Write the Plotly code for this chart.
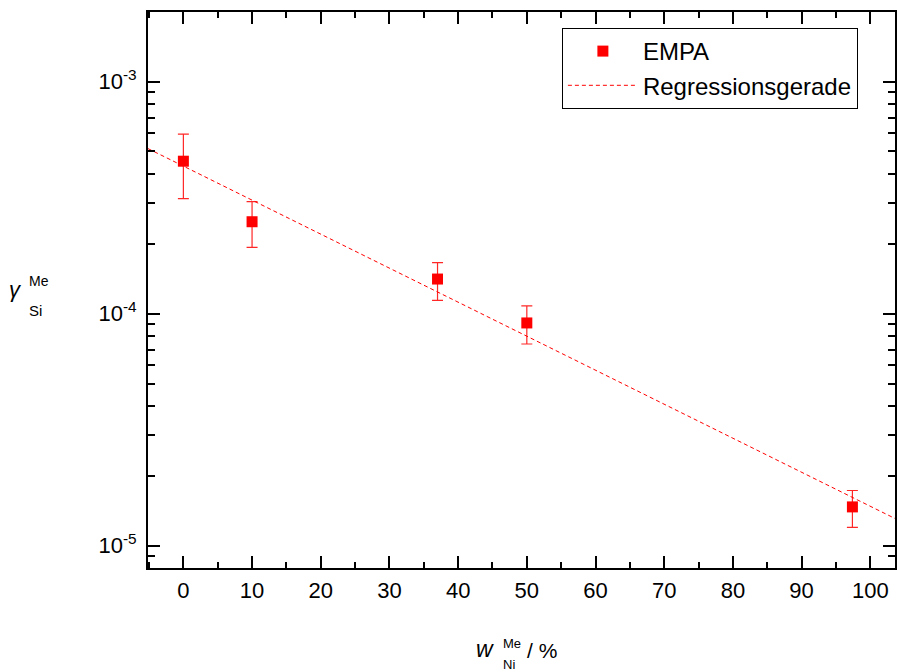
import numpy as np
import plotly.graph_objects as go

# Data
x_vals = [0, 10, 37, 50, 97.4]
y_vals = [4.54e-4, 2.49e-4, 1.41e-4, 9.12e-5, 1.47e-5]
y_err_plus = [5.94e-4, 3.04e-4, 1.66e-4, 1.08e-4, 1.73e-5]   # upper bar ends
y_err_minus = [3.13e-4, 1.93e-4, 1.14e-4, 7.4e-5, 1.20e-5]  # lower bar ends

x_ticks = [0, 10, 20, 30, 40, 50, 60, 70, 80, 90, 100]
y_ticks = [1e-5, 1e-4, 1e-3]
y_tick_text = ["10<sup>-5</sup>", "10<sup>-4</sup>", "10<sup>-3</sup>"]

x_range = [-5.15, 103.6]
y_range = [-5.096, -2.700]

# Regression line fitted in log space
slope, intercept = np.polyfit(np.array(x_vals), np.log10(np.array(y_vals)), 1)
x_fit = np.linspace(x_range[0], x_range[1], 200)
y_fit = 10 ** (intercept + slope * x_fit)

plus = [hi - v for hi, v in zip(y_err_plus, y_vals)]
minus = [v - lo for lo, v in zip(y_err_minus, y_vals)]

FONT = "Liberation Sans, Arial, sans-serif"
RED = "#ff0000"

W, H = 897, 672
L, R, T, B = 148, 0, 12, 104
PW, PH = W - L - R, H - T - B

fig = go.Figure()
fig.add_trace(go.Scatter(
    x=x_vals, y=y_vals, mode="markers", name="EMPA",
    marker=dict(symbol="square", size=11, color=RED),
    error_y=dict(type="data", symmetric=False, array=plus, arrayminus=minus,
                 color="rgba(255,0,0,0.85)", thickness=1.2, width=5.5),
))
fig.add_trace(go.Scatter(
    x=x_fit, y=y_fit, mode="lines", name="Regressionsgerade",
    line=dict(color=RED, width=1, dash="4px,3px"),
))

axis_common = dict(
    showline=True, linecolor="black", linewidth=2, mirror="ticks",
    ticks="inside", tickcolor="black", tickwidth=2, ticklen=12,
    showgrid=False, zeroline=False,
    tickfont=dict(family=FONT, size=22, color="black"),
)

fig.update_xaxes(range=x_range, tickvals=x_ticks, ticklabelstandoff=2,
                 minor=dict(ticks="inside", ticklen=6, tickwidth=2, tickcolor="black",
                            dtick=5, showgrid=False),
                 **axis_common)
fig.update_yaxes(type="log", range=y_range, tickvals=y_ticks, ticktext=y_tick_text,
                 ticklabelstandoff=5,
                 minor=dict(ticks="inside", ticklen=7, tickwidth=2, tickcolor="black",
                            dtick="D1", showgrid=False),
                 **axis_common)

# axis titles (page pixel positions)
annots = [
    dict(text="<i>γ</i>", x=15, y=289, size=22, anchor="center"),
    dict(text="Me", x=27, y=281, size=14, anchor="left"),
    dict(text="Si", x=27, y=310, size=15, anchor="left"),
    dict(text="<i>w</i>", x=486, y=649, size=23, anchor="center"),
    dict(text="Me", x=502, y=643, size=13, anchor="left"),
    dict(text="Ni", x=502, y=664, size=13, anchor="left"),
    dict(text="/ %", x=526, y=650, size=21, anchor="left"),
]
for a in annots:
    fig.add_annotation(
        text=a["text"], showarrow=False, xref="paper", yref="paper",
        x=(a["x"] - L) / PW, y=(H - B - a["y"]) / PH,
        xanchor=a["anchor"], yanchor="middle",
        font=dict(family=FONT, size=a["size"], color="black"),
    )

fig.update_layout(
    width=W, height=H,
    margin=dict(l=L, r=R, t=T, b=B),
    paper_bgcolor="white", plot_bgcolor="white",
    showlegend=True,
    legend=dict(x=(563 - L) / PW, y=(H - B - 28) / PH,
                xanchor="left", yanchor="top",
                bordercolor="black", borderwidth=1, bgcolor="white",
                font=dict(family=FONT, size=24, color="black"),
                itemwidth=70, tracegroupgap=0),
    font=dict(family=FONT, color="black"),
)

fig.write_html("out.html",
               config={"displayModeBar": False},
               post_script="document.body.style.margin='0';document.body.style.overflow='hidden';")
